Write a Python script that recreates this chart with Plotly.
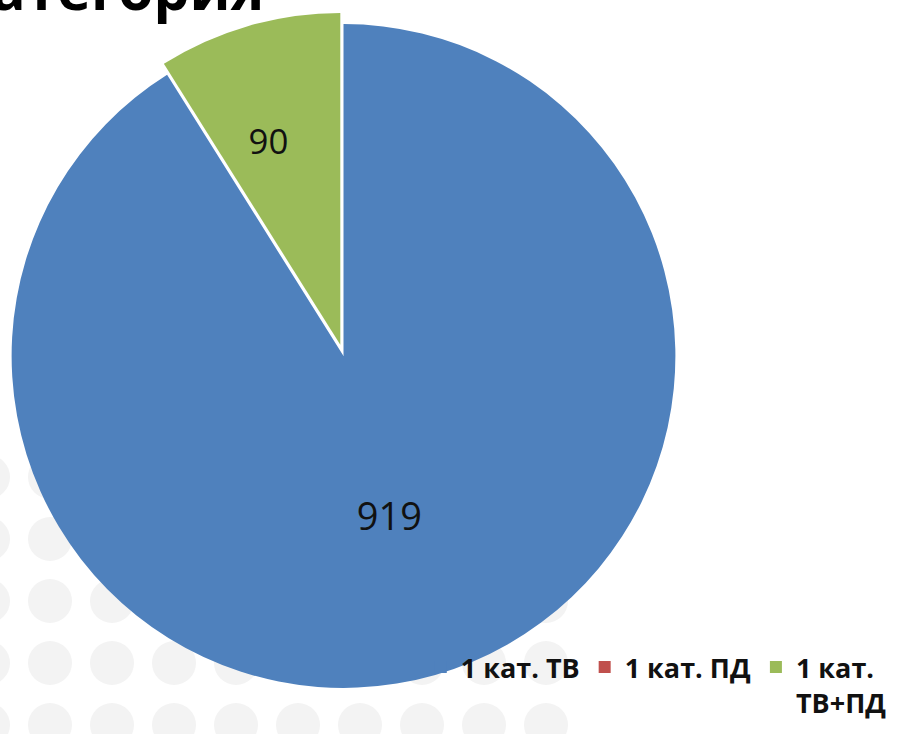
import plotly.graph_objects as go

# Data
categories = ["1 кат. ТВ", "1 кат. ПД", "1 кат.<br>ТВ+ПД"]
values = [919, 0, 90]
colors = ["#4F81BD", "#C0504D", "#9BBB59"]
pulls = [0, 0, 0.035]
title_text = "Категория"

W, H = 901, 734

fig = go.Figure()
fig.add_trace(go.Pie(
    labels=categories,
    values=values,
    sort=False,
    direction="clockwise",
    rotation=0,
    pull=pulls,
    marker=dict(colors=colors, line=dict(color="white", width=0)),
    texttemplate=["%{value}", "", "\u00a0<br>\u00a0<br>%{value}"],
    textposition="inside",
    insidetextorientation="horizontal",
    textfont=dict(family="Open Sans", size=38, color="#111111"),
    hoverinfo="label+value",
    domain=dict(x=[0, 0.7625], y=[0.047, 0.983]),
))

# decorative background dots (slide background pattern)
shapes = []
for j in range(5):
    cy = 477 + 62 * j
    for k in range(10):
        cx = -12 + 62 * k
        shapes.append(dict(
            type="circle", xref="paper", yref="paper", layer="below",
            x0=(cx - 22) / W, x1=(cx + 22) / W,
            y0=1 - (cy + 22) / H, y1=1 - (cy - 22) / H,
            fillcolor="#f3f3f3", line=dict(width=0),
        ))

fig.update_layout(
    width=W, height=H,
    margin=dict(l=0, r=0, t=0, b=0, autoexpand=False),
    paper_bgcolor="white",
    plot_bgcolor="white",
    shapes=shapes,
    showlegend=True,
    legend=dict(
        orientation="h",
        x=0.467, xanchor="left",
        y=0.124, yanchor="top",
        valign="top",
        font=dict(family="Open Sans", size=27, color="#111111", weight="bold"),
        bgcolor="rgba(0,0,0,0)",
        itemclick=False,
    ),
    annotations=[dict(
        text=title_text, xref="paper", yref="paper",
        x=266 / W, xanchor="right",
        y=1 + 12 / H, yanchor="middle",
        showarrow=False,
        font=dict(family="Open Sans", size=57, color="#000000", weight="bold"),
    )],
)

fig.write_html(
    "out.html",
    config={"displayModeBar": False},
    post_script="document.body.style.margin='0';document.body.style.overflow='hidden';",
)
